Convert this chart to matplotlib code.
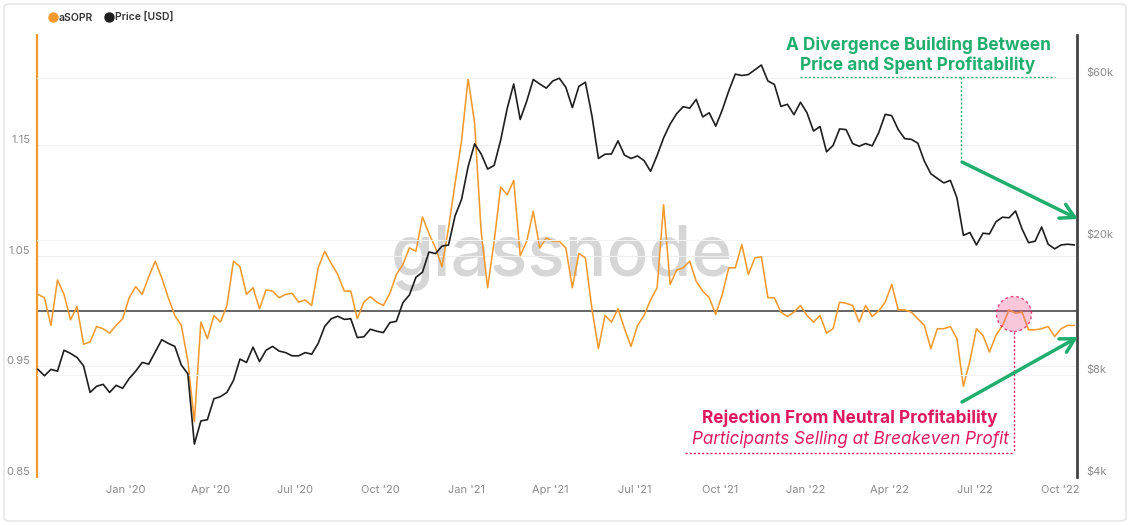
import matplotlib
matplotlib.use("Agg")
import matplotlib.pyplot as plt
import matplotlib.dates as mdates
from matplotlib.colors import to_rgba
from matplotlib.lines import Line2D
from matplotlib.patches import Ellipse, FancyBboxPatch
from matplotlib.ticker import FixedLocator, NullLocator, FixedFormatter
import pandas as pd

plt.rcParams["font.family"] = ["Inter", "DejaVu Sans"]

# weekly samples
dates = pd.date_range("2019-09-29", periods=160, freq="7D")

asopr = [
    1.015, 1.012, 0.987, 1.028, 1.015, 0.992, 1.004, 0.970, 0.972, 0.986,
    0.984, 0.980, 0.987, 0.993, 1.012, 1.022, 1.015, 1.031, 1.045, 1.030,
    1.012, 0.996, 0.987, 0.955, 0.900, 0.990, 0.975, 0.996, 0.990, 1.005,
    1.045, 1.040, 1.015, 1.021, 1.002, 1.019, 1.018, 1.012, 1.015, 1.016,
    1.008, 1.010, 1.005, 1.039, 1.054, 1.043, 1.033, 1.018, 1.018, 0.993,
    1.008, 1.013, 1.008, 1.005, 1.016, 1.033, 1.042, 1.057, 1.054, 1.085,
    1.070, 1.057, 1.040, 1.075, 1.115, 1.154, 1.210, 1.170, 1.072, 1.021,
    1.063, 1.112, 1.105, 1.118, 1.050, 1.063, 1.090, 1.057, 1.066, 1.063,
    1.063, 1.057, 1.021, 1.052, 1.048, 1.002, 0.966, 0.996, 0.990, 1.002,
    0.984, 0.968, 0.987, 0.996, 1.010, 1.021, 1.096, 1.024, 1.037, 1.039,
    1.045, 1.027, 1.018, 1.012, 0.997, 1.015, 1.039, 1.039, 1.060, 1.033,
    1.048, 1.049, 1.012, 1.012, 0.999, 0.995, 0.999, 1.005, 0.996, 0.990,
    0.996, 0.980, 0.984, 1.008, 1.007, 1.005, 0.990, 1.005, 0.995, 1.000,
    1.008, 1.024, 1.001, 1.001, 0.999, 0.993, 0.987, 0.966, 0.984, 0.984,
    0.986, 0.975, 0.932, 0.955, 0.984, 0.978, 0.963, 0.978, 0.987, 1.001,
    0.998, 0.999, 0.983, 0.983, 0.984, 0.986, 0.977, 0.984, 0.987, 0.987,
]

price = [
    8300, 7950, 8300, 8200, 9450, 9250, 9000, 8500, 7100, 7400,
    7500, 7100, 7450, 7300, 7800, 8200, 8700, 8600, 9350, 10150,
    9900, 9700, 8550, 8050, 5000, 5850, 5900, 6800, 6900, 7100,
    7700, 8900, 8700, 9650, 8750, 9450, 9700, 9400, 9300, 9100,
    9100, 9300, 9200, 9900, 11100, 11700, 11900, 11650, 11700, 10300,
    10350, 10900, 10750, 10650, 11400, 11500, 13050, 13750, 15500, 16050,
    18400, 18200, 19150, 19300, 23500, 26300, 32800, 38300, 35800, 32300,
    33100, 39300, 48700, 57500, 45200, 51200, 59300, 57500, 55900, 58700,
    59800, 56200, 49000, 56600, 58200, 46400, 34700, 35700, 35800, 39100,
    35500, 34700, 35300, 34200, 31800, 35400, 39900, 43800, 47000, 49300,
    48800, 51800, 46000, 47300, 43200, 48200, 54900, 61500, 60900, 61300,
    63300, 65400, 58700, 57300, 49400, 50100, 46700, 50800, 47300, 41800,
    43100, 36300, 37900, 42400, 42200, 38400, 37700, 38400, 37800, 41300,
    46800, 46400, 42200, 39700, 39500, 38500, 34100, 31300, 30300, 29400,
    29900, 26600, 20600, 21000, 19300, 20900, 20800, 22600, 23300, 23200,
    24300, 21500, 19600, 19800, 21800, 19400, 18800, 19300, 19400, 19300,
]

asopr_ticks = [0.85, 0.95, 1.05, 1.15]
price_ticks = [4000, 8000, 20000, 60000]
price_labels = ["$4k", "$8k", "$20k", "$60k"]
month_ticks = pd.date_range("2020-01-01", "2022-10-01", freq="QS")

ORANGE = "#f39a2e"
BLACK = "#1e1e1e"
GREEN = "#1fae6e"
PINK = "#e0195f"
TICK = "#8a8a8a"

W, H = 1130, 525
fig = plt.figure(figsize=(W / 100, H / 100), dpi=100)
ax = fig.add_axes([37 / W, 1 - 477 / H, 1040 / W, 442 / H])
ax2 = ax.twinx()

# watermark
ax.text(0.505, 0.495, "glassnode", transform=ax.transAxes, ha="center", va="center",
        fontsize=50, color="#d6d6d6", fontweight="medium", zorder=0)

ax.plot(dates, asopr, color=ORANGE, lw=1.15, zorder=3)
ax.axhline(1.0, color="#4a4a4a", lw=1.2, zorder=2)
ax.set_ylim(0.85, 1.2494)
ax.set_xlim(pd.Timestamp("2019-09-28"), pd.Timestamp("2022-10-19"))
ax.yaxis.set_major_locator(FixedLocator(asopr_ticks))
ax.set_yticklabels([f"{t:.2f}" for t in asopr_ticks])
ax.grid(axis="y", color="#efefef", lw=0.8)

ax2.plot(dates, price, color=BLACK, lw=1.2)
ax2.set_yscale("log")
ax2.set_ylim(4000, 80170)
ax2.yaxis.set_major_locator(FixedLocator(price_ticks))
ax2.yaxis.set_major_formatter(FixedFormatter(price_labels))
ax2.yaxis.set_minor_locator(NullLocator())
ax2.grid(axis="y", color="#f3f3f3", lw=0.8)

ax.xaxis.set_major_locator(FixedLocator(mdates.date2num(month_ticks)))
ax.xaxis.set_major_formatter(mdates.DateFormatter("%b '%y"))

ax.tick_params(axis="y", length=0, pad=5, labelsize=8, labelcolor=TICK)
ax.tick_params(axis="x", length=0, pad=5.8, labelsize=8, labelcolor=TICK)
ax2.tick_params(axis="y", length=0, pad=7, labelsize=8, labelcolor=TICK)
for lab in ax.get_yticklabels() + ax2.get_yticklabels():
    lab.set_verticalalignment("bottom")

for s in ["top", "bottom", "right"]:
    ax.spines[s].set_visible(False)
for s in ["top", "bottom", "left"]:
    ax2.spines[s].set_visible(False)
ax.spines["left"].set_color(ORANGE)
ax.spines["left"].set_linewidth(1.6)
ax2.spines["right"].set_color("#444444")
ax2.spines["right"].set_linewidth(2)

# legend
handles = [Line2D([], [], marker="o", ls="none", color=ORANGE, ms=6.5),
           Line2D([], [], marker="o", ls="none", color=BLACK, ms=6.5)]
fig.legend(handles, ["aSOPR", "Price [USD]"], loc="center left",
           bbox_to_anchor=(38 / W, 1 - 18 / H), ncol=2, frameon=False,
           prop={"size": 7.5, "weight": "semibold"}, handletextpad=0.1,
           columnspacing=1.0, handlelength=1.0, labelcolor="#333333")

# annotations (axes-fraction positions)
tr = ax2.transAxes
fx = lambda px: (px - 37) / 1040
fy = lambda py: (477 - py) / 442
dot = (0, (1.5, 1.5))
ax2.text(fx(918), fy(55), "A Divergence Building Between\nPrice and Spent Profitability",
         transform=tr, ha="center", va="center", fontsize=12.4, fontweight="bold",
         color=GREEN, linespacing=1.15)
ax2.plot([fx(800), fx(1055)], [fy(77), fy(77)], transform=tr, color=GREEN, lw=1, ls=dot, clip_on=False)
ax2.plot([fx(961), fx(961)], [fy(77), fy(160)], transform=tr, color=GREEN, lw=1, ls=dot, clip_on=False)
arrow = dict(arrowstyle="->,head_length=1.0,head_width=0.55", color=GREEN, lw=2.5,
             shrinkA=0, shrinkB=0)
ax2.annotate("", xy=(fx(1078), fy(219)), xytext=(fx(962), fy(162)), xycoords=tr, textcoords=tr,
             arrowprops=arrow, annotation_clip=False)
ax2.annotate("", xy=(fx(1078), fy(337)), xytext=(fx(962), fy(402)), xycoords=tr, textcoords=tr,
             arrowprops=arrow, annotation_clip=False)

ax2.add_patch(Ellipse((fx(1014), fy(314)), 35 / 1040, 35 / 442, transform=tr,
                      fc=to_rgba("#ee5f93", 0.35), ec=to_rgba(PINK, 0.8),
                      lw=1, ls=(0, (2, 2)), zorder=5))
ax2.plot([fx(1014), fx(1014)], [fy(332), fy(453)], transform=tr, color=PINK, lw=1, ls=dot, clip_on=False)
ax2.plot([fx(685), fx(1014)], [fy(453), fy(453)], transform=tr, color=PINK, lw=1, ls=dot, clip_on=False)
ax2.text(fx(850), fy(418), "Rejection From Neutral Profitability", transform=tr,
         ha="center", va="center", fontsize=12.4, fontweight="bold", color=PINK)
ax2.text(fx(850), fy(440), "Participants Selling at Breakeven Profit", transform=tr,
         ha="center", va="center", fontsize=12.3, style="italic", color=PINK)

fig.patches.append(FancyBboxPatch((4 / W, 4 / H), 1122 / W, 517 / H,
                                  boxstyle="round,pad=0,rounding_size=0.006",
                                  transform=fig.transFigure, fc="none",
                                  ec="#e3e3e3", lw=1))

fig.savefig("out.png", dpi=100)
